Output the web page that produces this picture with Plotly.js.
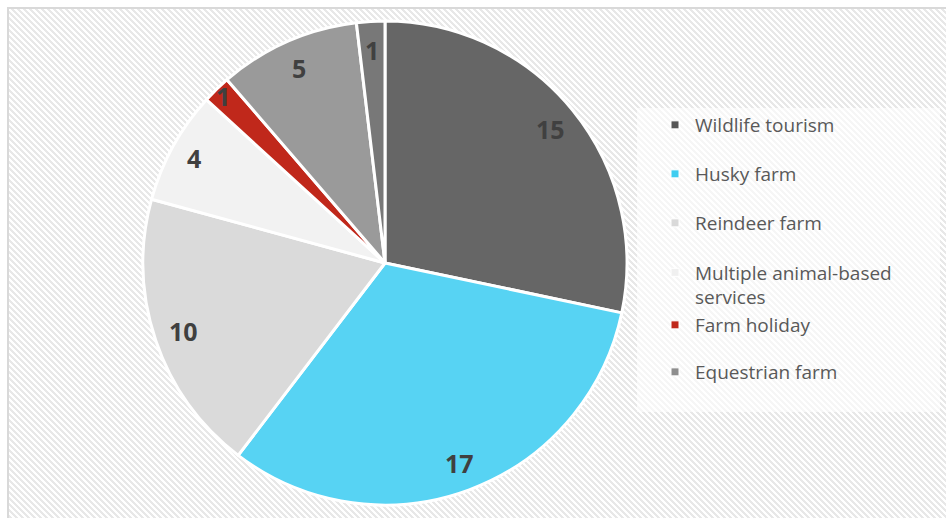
<!DOCTYPE html>
<html>
<head>
<meta charset="utf-8">
<script src="https://cdn.plot.ly/plotly-3.0.1.min.js"></script>
<style>
body { margin: 0; background: #fff; }
#frame {
  position: absolute; left: 7px; top: 7px; width: 939px; height: 511px;
  border-left: 2px solid #d9d9d9; border-top: 2px solid #d9d9d9;
  background: repeating-linear-gradient(45deg, #ffffff 0px, #ffffff 2.1213px, #e8e8e8 2.1213px, #e8e8e8 4.2426px);
}
#chart { position: absolute; left: 0; top: 0; width: 946px; height: 518px; }
</style>
</head>
<body>
<div id="frame"></div>
<div id="chart"></div>
<script>
// dados
let labels = ["Wildlife tourism", "Husky farm", "Reindeer farm", "Multiple animal-based services", "Farm holiday", "Equestrian farm", "Other"]
let values = [15, 17, 10, 4, 1, 5, 1]
let sliceColors = ["#666666", "#57d3f3", "#dadada", "#f2f2f2", "#c0281b", "#9a9a9a", "#787878"]

// legenda (so 6 entradas aparecem no original)
let legendNames = ["Wildlife tourism", "Husky farm", "Reindeer farm", "Multiple animal-based<br>services", "Farm holiday", "Equestrian farm"]
let legendColors = ["#555555", "#3fcdf0", "#d9d9d9", "#f0f0f0", "#c0281b", "#8e8e8e"]

let W = 946, H = 518
let cx = 385, cy = 263, R = 242 // centro e raio da pizza em px
let labelR = [0.88, 0.88, 0.88, 0.9, 0.96, 0.88, 0.88]
let legendY = [125, 174, 223, 285, 325, 372]

let pie = {
  type: "pie",
  labels: labels,
  values: values,
  sort: false,
  direction: "clockwise",
  rotation: 0,
  textinfo: "none",
  hoverinfo: "label+value",
  showlegend: false,
  marker: { colors: sliceColors, line: { color: "#ffffff", width: 3 } },
  domain: { x: [(cx - R) / W, (cx + R) / W], y: [1 - (cy + R) / H, 1 - (cy - R) / H] }
}

let data = [pie]
let layout = {
  width: W, height: H,
  margin: { l: 0, r: 0, t: 0, b: 0 },
  paper_bgcolor: "rgba(0,0,0,0)",
  plot_bgcolor: "rgba(0,0,0,0)",
  xaxis: { visible: false, domain: [0.99, 1] },
  yaxis: { visible: false, domain: [0.99, 1] },
  annotations: [],
  shapes: [{
    type: "rect", xref: "paper", yref: "paper", layer: "below",
    x0: 637 / W, x1: 940 / W, y0: 1 - 412 / H, y1: 1 - 108 / H,
    fillcolor: "rgba(255,255,255,0.6)", line: { width: 0 }
  }]
}

// entradas da legenda como tracos vazios, cada uma na sua legenda
for (let i = 0; i < legendNames.length; i++) {
  let id = i == 0 ? "legend" : "legend" + (i + 1)
  data.push({
    type: "scatter", mode: "markers", x: [null], y: [null],
    name: legendNames[i], legend: id, hoverinfo: "skip",
    marker: { symbol: "square", size: 8, color: legendColors[i], line: { color: "#ffffff", width: 1 } }
  })
  layout[id] = {
    x: 655 / W, y: 1 - legendY[i] / H, xanchor: "left", yanchor: "middle",
    bgcolor: "rgba(0,0,0,0)", borderwidth: 0, valign: "top", itemwidth: 30,
    font: { family: "Open Sans", size: 19, color: "#595959" }
  }
}

// rotulos dos valores
let total = values.reduce((a, b) => a + b, 0)
let acc = 0
for (let i = 0; i < values.length; i++) {
  let mid = (acc + values[i] / 2) / total * 2 * Math.PI
  acc += values[i]
  let px = cx + R * labelR[i] * Math.sin(mid)
  let py = cy - R * labelR[i] * Math.cos(mid)
  layout.annotations.push({
    xref: "paper", yref: "paper", x: px / W, y: 1 - py / H,
    xanchor: "center", yanchor: "middle",
    text: "<b>" + values[i] + "</b>", showarrow: false,
    font: { family: "Open Sans", size: 25, color: "#404040" }
  })
}

Plotly.newPlot("chart", data, layout, { displayModeBar: false })
</script>
</body>
</html>
